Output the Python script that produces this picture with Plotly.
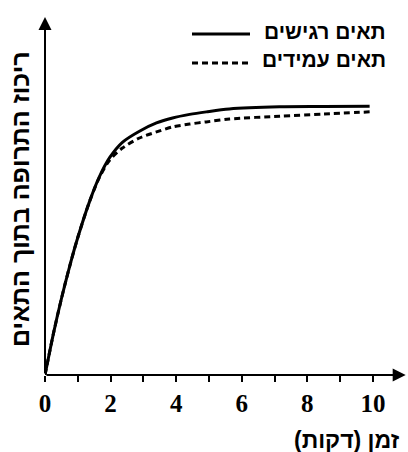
import plotly.graph_objects as go

# ---- data ----
time_min = [0, 0.26, 0.5, 0.75, 1.0, 1.36, 1.66, 1.97, 2.36, 2.88, 3.4, 3.89, 4.41, 4.92, 5.62, 7.15, 8.5, 9.9]
sensitive = [0, 11.7, 21.3, 30.3, 38.4, 48.5, 55.4, 60.7, 65.0, 68.1, 70.4, 71.8, 72.8, 73.5, 74.3, 74.9, 75.0, 75.1]
resistant = [0, 11.7, 21.3, 30.3, 38.4, 48.5, 55.2, 60.0, 63.4, 66.2, 67.9, 69.3, 70.1, 70.7, 71.5, 72.3, 72.9, 73.5]

series_names = ["תאים רגישים", "תאים עמידים"]
x_tick_vals = [0, 1, 2, 3, 4, 5, 6, 7, 8, 9, 10]
x_tick_text = ["0", "", "2", "", "4", "", "6", "", "8", "", "10"]
x_title = "\u200fזמן (דקות)\u200f"
y_title = "ריכוז התרופה בתוך התאים"

W, H = 408, 452
ML, MR, MT, MB = 45, 0, 17, 77
XMAX = 11.07

fig = go.Figure()
fig.add_trace(go.Scatter(x=time_min, y=sensitive, mode="lines", name=series_names[0],
                         line=dict(color="black", width=3, shape="spline", smoothing=0.8),
                         showlegend=False))
fig.add_trace(go.Scatter(x=time_min, y=resistant, mode="lines", name=series_names[1],
                         line=dict(color="black", width=3, dash="6px,4px", shape="spline", smoothing=0.8),
                         showlegend=False))

# axis arrows
fig.add_annotation(x=11.0, y=0, ax=0, ay=0, xref="x", yref="y", axref="x", ayref="y",
                   showarrow=True, arrowhead=2, arrowsize=1.3, arrowwidth=2, arrowcolor="black", text="")
fig.add_annotation(x=0, y=100, ax=0, ay=0, xref="x", yref="y", axref="x", ayref="y",
                   showarrow=True, arrowhead=2, arrowsize=1.3, arrowwidth=2, arrowcolor="black", text="")

pw = W - ML - MR
ph = H - MT - MB
def px_x(p):
    return (p - ML) / pw
def px_y(p):
    return (H - MB - p) / ph

# legend (manual, matching the original placement)
font_leg = dict(family="Liberation Sans", size=21, color="black", weight="bold")
fig.add_annotation(x=px_x(388), y=px_y(31), xref="paper", yref="paper", text=series_names[0],
                   showarrow=False, xanchor="right", yanchor="middle", font=font_leg)
fig.add_annotation(x=px_x(388), y=px_y(59), xref="paper", yref="paper", text=series_names[1],
                   showarrow=False, xanchor="right", yanchor="middle", font=font_leg)
fig.add_shape(type="line", xref="paper", yref="paper", x0=px_x(192), x1=px_x(250),
              y0=px_y(34), y1=px_y(34), line=dict(color="black", width=3))
fig.add_shape(type="line", xref="paper", yref="paper", x0=px_x(192), x1=px_x(250),
              y0=px_y(63), y1=px_y(63), line=dict(color="black", width=3, dash="6px,4px"))

# axis titles
fig.add_annotation(x=px_x(402), y=px_y(440), xref="paper", yref="paper", text=x_title,
                   showarrow=False, xanchor="right", yanchor="middle",
                   font=dict(family="Liberation Sans", size=23, color="black", weight="bold"))
fig.add_annotation(x=px_x(20), y=px_y(199), xref="paper", yref="paper", text=y_title,
                   showarrow=False, textangle=-90, xanchor="center", yanchor="middle",
                   font=dict(family="Liberation Sans", size=25, color="black", weight="bold"))

fig.update_layout(
    width=W, height=H,
    margin=dict(l=ML, r=MR, t=MT, b=MB, pad=0),
    plot_bgcolor="white", paper_bgcolor="white",
    xaxis=dict(range=[0, XMAX], tickvals=x_tick_vals, ticktext=x_tick_text,
               ticks="outside", ticklen=6, tickwidth=2, tickcolor="black",
               showgrid=False, zeroline=False, showline=False,
               tickfont=dict(family="Liberation Serif", size=25, color="black", weight="bold")),
    yaxis=dict(range=[0, 100], showticklabels=False, ticks="", showgrid=False,
               zeroline=False, showline=False),
)

fig.write_html("out.html", config={"displayModeBar": False},
               post_script="document.body.style.margin='0';document.body.style.overflow='hidden';")
